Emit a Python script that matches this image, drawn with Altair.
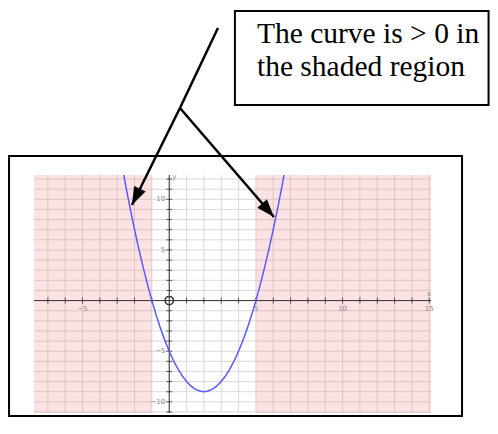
import altair as alt
import pandas as pd

# ---- domains of the graph ----
X_DOM = [-7.8, 15.1]
Y_DOM = [-11.1, 12.4]

# ---- curve samples ----
curve_x = [-3, -2.5, -2, -1.5, -1, -0.5, 0, 0.5, 1, 1.5, 2, 2.5, 3, 3.5, 4, 4.5, 5, 5.5, 6, 6.5, 7]
curve_y = [16, 11.25, 7, 3.25, 0, -2.75, -5, -6.75, -8, -8.75, -9, -8.75, -8, -6.75, -5, -2.75, 0, 3.25, 7, 11.25, 16]

# ---- shaded regions (curve > 0) ----
shade_x1 = [-7.8, 5]
shade_x2 = [-1, 15.1]

# ---- grid / ticks ----
grid_x = list(range(-7, 16))
grid_y = list(range(-11, 13))
tick_x = [v for v in grid_x if v != 0]
tick_y = [v for v in grid_y if v != 0]

xlab_vals = [-5, 5, 10, 15]
xlab_text = ["\u22125", "5", "10", "15"]
ylab_vals = [10, 5, -5, -10]
ylab_text = ["10", "5", "\u22125", "\u221210"]

# ---- annotation (in graph coordinates) ----
frame_x = [-9.24, 16.89]
frame_y = [-11.40, 14.28]
box_x = [3.79, 18.42]
box_y = [19.31, 28.59]
note_lines = ["The curve is > 0 in", "the shaded region"]
note_x = [5.06, 5.06]
note_y = [25.46, 22.18]
stem_x = [2.81, 0.62]
stem_y = [26.91, 19.02]
tip_x = [-2.15, 6.04]
tip_y = [9.44, 8.25]
tip_angle = [206, 139]

xs = alt.Scale(domain=X_DOM, nice=False, zero=False)
ys = alt.Scale(domain=Y_DOM, nice=False, zero=False)


def X(f):
    return alt.X(f, type="quantitative", scale=xs, axis=None)


def Y(f):
    return alt.Y(f, type="quantitative", scale=ys, axis=None)


def rect_df(x1, x2, y1, y2):
    return pd.DataFrame({"x": x1, "x2": x2, "y": y1, "y2": y2})


frame = alt.Chart(rect_df([frame_x[0]], [frame_x[1]], [frame_y[0]], [frame_y[1]])).mark_rect(
    fill="white", stroke="black", strokeWidth=2
).encode(x=X("x"), x2="x2", y=Y("y"), y2="y2")

gx = alt.Chart(pd.DataFrame({"x": grid_x, "y": [Y_DOM[0]] * len(grid_x), "y2": [Y_DOM[1]] * len(grid_x)})).mark_rule(
    color="#d9d9d9", strokeWidth=1).encode(x=X("x"), y=Y("y"), y2="y2")
gy = alt.Chart(pd.DataFrame({"y": grid_y, "x": [X_DOM[0]] * len(grid_y), "x2": [X_DOM[1]] * len(grid_y)})).mark_rule(
    color="#d9d9d9", strokeWidth=1).encode(y=Y("y"), x=X("x"), x2="x2")

shade = alt.Chart(rect_df(shade_x1, shade_x2, [Y_DOM[0]] * 2, [Y_DOM[1]] * 2)).mark_rect(
    fill="#f07070", opacity=0.2
).encode(x=X("x"), x2="x2", y=Y("y"), y2="y2")

xaxis = alt.Chart(pd.DataFrame({"x": [X_DOM[0]], "x2": [X_DOM[1]], "y": [0]})).mark_rule(
    color="#333333", strokeWidth=1).encode(x=X("x"), x2="x2", y=Y("y"))
yaxis = alt.Chart(pd.DataFrame({"y": [Y_DOM[0]], "y2": [Y_DOM[1]], "x": [0]})).mark_rule(
    color="#333333", strokeWidth=1).encode(y=Y("y"), y2="y2", x=X("x"))

xt = alt.Chart(pd.DataFrame({"x": tick_x, "y": [0] * len(tick_x)})).mark_tick(
    orient="vertical", size=6, thickness=1, color="#222222").encode(x=X("x"), y=Y("y"))
yt = alt.Chart(pd.DataFrame({"y": tick_y, "x": [0] * len(tick_y)})).mark_tick(
    orient="horizontal", size=6, thickness=1, color="#222222").encode(x=X("x"), y=Y("y"))

xl = alt.Chart(pd.DataFrame({"x": xlab_vals, "y": [0] * 4, "t": xlab_text})).mark_text(
    dy=8, fontSize=7, color="#888888", font="DejaVu Sans").encode(x=X("x"), y=Y("y"), text="t:N")
yl = alt.Chart(pd.DataFrame({"y": ylab_vals, "x": [0] * 4, "t": ylab_text})).mark_text(
    dx=-4, align="right", fontSize=7, color="#888888", font="DejaVu Sans").encode(x=X("x"), y=Y("y"), text="t:N")

ytitle = alt.Chart(pd.DataFrame({"x": [0], "y": [Y_DOM[1]], "t": ["y"]})).mark_text(
    dx=5, dy=2, fontSize=7, color="#888888", font="DejaVu Sans").encode(x=X("x"), y=Y("y"), text="t:N")
xtitle = alt.Chart(pd.DataFrame({"x": [X_DOM[1]], "y": [0], "t": ["x"]})).mark_text(
    dx=-2, dy=-7, fontSize=7, color="#888888", font="DejaVu Sans").encode(x=X("x"), y=Y("y"), text="t:N")

origin = alt.Chart(pd.DataFrame({"x": [0], "y": [0]})).mark_point(
    shape="circle", size=70, filled=False, color="#333333", strokeWidth=1.5, opacity=1).encode(x=X("x"), y=Y("y"))

curve = alt.Chart(pd.DataFrame({"x": curve_x, "y": curve_y})).mark_line(
    color="#5a5aff", strokeWidth=1.5, interpolate="monotone", clip=True).encode(x=X("x"), y=Y("y"))

box = alt.Chart(rect_df([box_x[0]], [box_x[1]], [box_y[0]], [box_y[1]])).mark_rect(
    fill="white", stroke="black", strokeWidth=2
).encode(x=X("x"), x2="x2", y=Y("y"), y2="y2")

# top edge of the note box drawn again as a rule
box_top = alt.Chart(pd.DataFrame({"x": [box_x[0]], "x2": [box_x[1]], "y": [box_y[1]]})).mark_rule(
    color="black", strokeWidth=2).encode(x=X("x"), x2="x2", y=Y("y"))

note = alt.Chart(pd.DataFrame({"x": note_x, "y": note_y, "t": note_lines})).mark_text(
    align="left", baseline="alphabetic", fontSize=29.5, font="Liberation Serif", color="black"
).encode(x=X("x"), y=Y("y"), text="t:N")

stem = alt.Chart(pd.DataFrame({"x": stem_x, "y": stem_y, "o": [0, 1]})).mark_line(
    color="black", strokeWidth=2.5).encode(x=X("x"), y=Y("y"), order="o:Q")

branch_rows = []
for i in range(2):
    branch_rows.append({"g": i, "o": 0, "x": stem_x[1], "y": stem_y[1]})
    branch_rows.append({"g": i, "o": 1, "x": tip_x[i], "y": tip_y[i]})
branches = alt.Chart(pd.DataFrame(branch_rows)).mark_line(color="black", strokeWidth=2.5).encode(
    x=X("x"), y=Y("y"), detail="g:N", order="o:Q")

heads = alt.Chart(pd.DataFrame({"x": tip_x, "y": tip_y, "a": tip_angle})).mark_point(
    shape="M0,0L0.8,2.25L-0.8,2.25Z", size=256, filled=True, color="black", opacity=1
).encode(x=X("x"), y=Y("y"), angle=alt.Angle("a:Q", scale=None))

chart = alt.layer(
    frame, gx, gy, shade, xaxis, yaxis, xt, yt, xl, yl, ytitle, xtitle, origin, curve,
    box, box_top, note, stem, branches, heads
).properties(
    width=397, height=238,
    autosize=alt.AutoSizeParams(type="none"),
    padding={"left": 26, "top": 167, "right": 59, "bottom": 5},
).configure_view(stroke=None)

chart.save("out.html", embed_options={"renderer": "svg", "actions": False})
